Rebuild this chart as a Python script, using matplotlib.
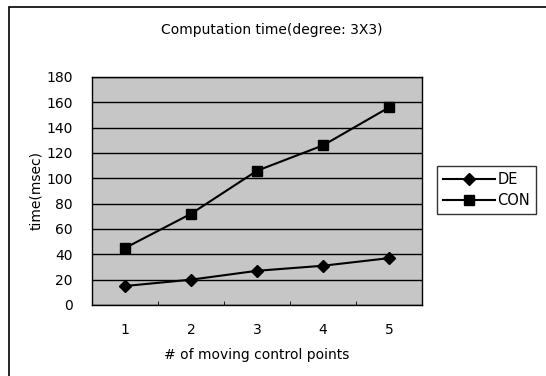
import matplotlib
matplotlib.use("Agg")
import matplotlib.pyplot as plt
from matplotlib.patches import Rectangle

categories = [1, 2, 3, 4, 5]
de_values = [15, 20, 27, 31, 37]
con_values = [45, 72, 106, 126, 156]
y_ticks = [0, 20, 40, 60, 80, 100, 120, 140, 160, 180]

plt.rcParams['font.family'] = ['DejaVu Sans']

fig = plt.figure(figsize=(5.46, 3.76), dpi=100)
fig.patch.set_facecolor('white')
# outer frame
fig.patches.append(Rectangle((9/546, -0.01), 1.2, 1 - 7/376 + 0.01, transform=fig.transFigure,
                             fill=False, edgecolor='black', linewidth=1.2))

ax = fig.add_axes([92/546, 1 - 305/376, 330/546, 228/376])
ax.set_facecolor('#c6c6c6')
ax.plot(categories, de_values, color='black', linewidth=1.5, marker='D', markersize=6.5, label='DE')
ax.plot(categories, con_values, color='black', linewidth=1.5, marker='s', markersize=7, label='CON')

ax.set_xlim(0.5, 5.5)
ax.set_ylim(0, 180)
ax.set_yticks(y_ticks)
ax.set_xticks(categories)
ax.set_xticks([1.5, 2.5, 3.5, 4.5], minor=True)
ax.tick_params(axis='x', which='major', length=0, pad=13, labelsize=10)
ax.tick_params(axis='x', which='minor', length=3, direction='in')
ax.tick_params(axis='y', length=0, pad=14, labelsize=10)
ax.grid(axis='y', color='black', linewidth=1)
ax.set_axisbelow(True)
for s in ax.spines.values():
    s.set_color('black')
    s.set_linewidth(1)

ax.set_ylabel('time(msec)', fontsize=10, labelpad=2)
ax.set_xlabel('# of moving control points', fontsize=10, labelpad=8)
fig.text(272/546, 1 - 30/376, 'Computation time(degree: 3X3)', ha='center', va='center', fontsize=10)

leg = ax.legend(loc='center left', bbox_to_anchor=(437/546, 1 - 190/376), bbox_transform=fig.transFigure,
                frameon=True, fancybox=False, edgecolor='black', fontsize=10.5,
                handlelength=3.6, handletextpad=0.15, borderpad=0.4, labelspacing=0.4, borderaxespad=0)
leg.get_frame().set_linewidth(1)

fig.savefig('out.png', dpi=100)
